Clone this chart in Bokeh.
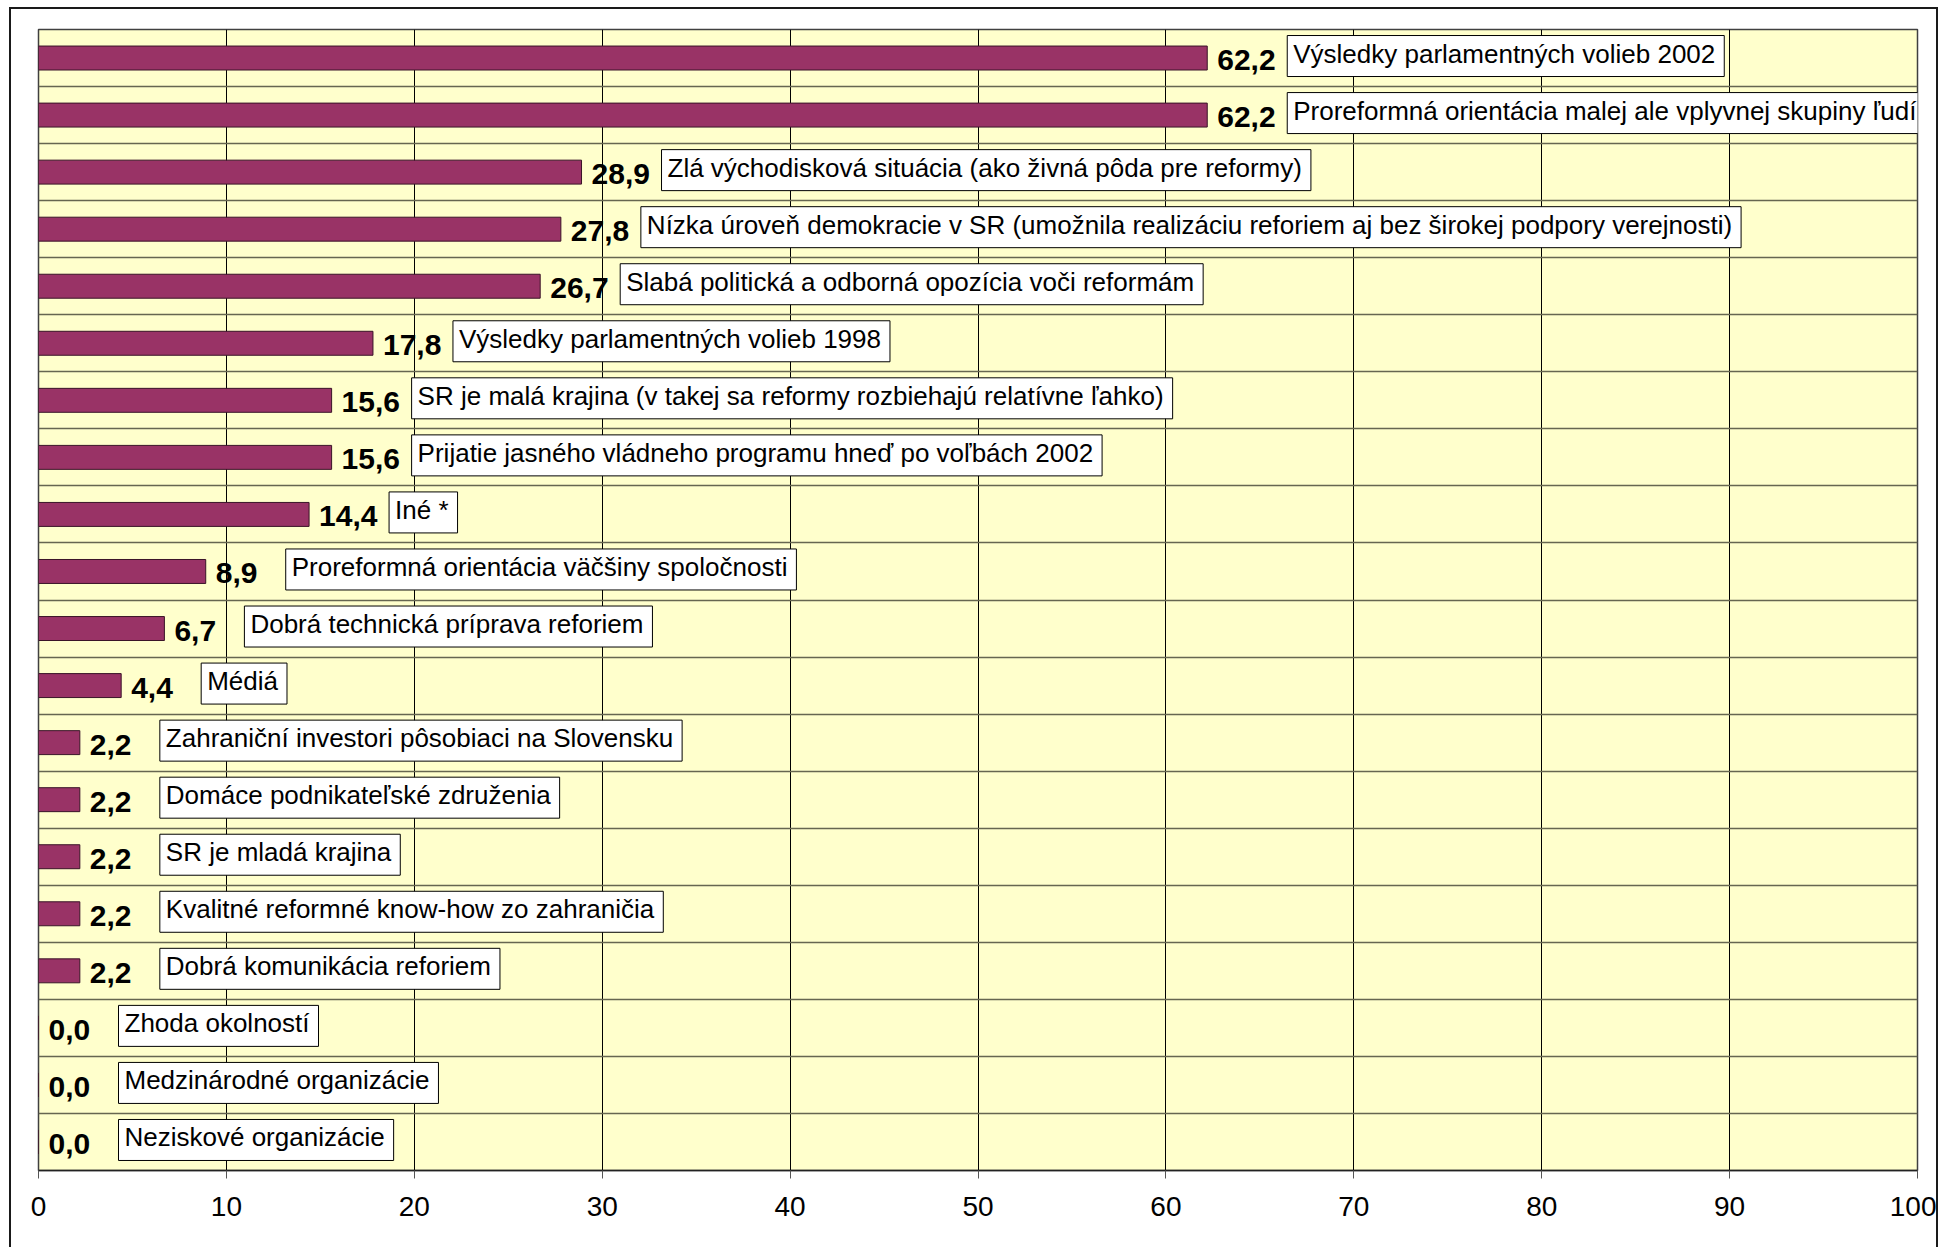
from bokeh.plotting import figure
from bokeh.models import ColumnDataSource, FixedTicker, Range1d
from bokeh.core.properties import value
from bokeh.embed import file_html
from bokeh.resources import INLINE

labels = [
    "Výsledky parlamentných volieb 2002",
    "Proreformná orientácia malej ale vplyvnej skupiny ľudí",
    "Zlá východisková situácia (ako živná pôda pre reformy)",
    "Nízka úroveň demokracie v SR (umožnila realizáciu reforiem aj bez širokej podpory verejnosti)",
    "Slabá politická a odborná opozícia voči reformám",
    "Výsledky parlamentných volieb 1998",
    "SR je malá krajina (v takej sa reformy rozbiehajú relatívne ľahko)",
    "Prijatie jasného vládneho programu hneď po voľbách 2002",
    "Iné *",
    "Proreformná orientácia väčšiny spoločnosti",
    "Dobrá technická príprava reforiem",
    "Médiá",
    "Zahraniční investori pôsobiaci na Slovensku",
    "Domáce podnikateľské združenia",
    "SR je mladá krajina",
    "Kvalitné reformné know-how zo zahraničia",
    "Dobrá komunikácia reforiem",
    "Zhoda okolností",
    "Medzinárodné organizácie",
    "Neziskové organizácie",
]
values = [62.2, 62.2, 28.9, 27.8, 26.7, 17.8, 15.6, 15.6, 14.4, 8.9,
          6.7, 4.4, 2.2, 2.2, 2.2, 2.2, 2.2, 0.0, 0.0, 0.0]
x_ticks = [0, 10, 20, 30, 40, 50, 60, 70, 80, 90, 100]

n = len(labels)
src = ColumnDataSource(dict(
    y=list(range(n)),
    v=values,
    vt=[f"{v:.1f}".replace(".", ",") for v in values],
    lab=labels,
))

p = figure(width=1929, height=1240,
           x_range=Range1d(0, 100), y_range=Range1d(n - 0.5, -0.5),
           output_backend="svg", toolbar_location=None,
           min_border_left=27, min_border_right=23,
           min_border_top=20, min_border_bottom=79,
           background_fill_color="#FFFFCC", border_fill_color="white")
p.styles = {"border": "2px solid #1a1a1a", "border-bottom": "none",
            "margin-left": "9px", "margin-top": "7px"}

p.outline_line_color = "#404040"
p.outline_line_width = 1.5

p.yaxis.visible = False
p.xgrid.ticker = FixedTicker(ticks=x_ticks)
p.xgrid.grid_line_color = "#000000"
p.xgrid.grid_line_width = 1
p.ygrid.ticker = FixedTicker(ticks=[i + 0.5 for i in range(n - 1)])
p.ygrid.grid_line_color = "#666650"
p.ygrid.grid_line_width = 1.5

ax = p.xaxis[0]
ax.ticker = FixedTicker(ticks=x_ticks)
ax.axis_line_color = "#222222"
ax.axis_line_width = 1.5
ax.major_tick_line_color = "#555555"
ax.major_tick_out = 8
ax.major_tick_in = 0
ax.minor_tick_line_color = None
ax.major_label_text_font = "Liberation Sans"
ax.major_label_text_font_size = "28px"
ax.major_label_text_color = "#000000"
ax.major_label_standoff = 18

p.hbar(y="y", left=0, right="v", height=0.42, source=src,
       fill_color="#993366", line_color="#3a1428", line_width=1)

p.text(x="v", y="y", text="vt", source=src, x_offset=10, y_offset=2,
       text_font=value("Liberation Sans"), text_font_style="bold",
       text_font_size="30px", text_color="#000000",
       text_align="left", text_baseline="middle")

p.text(x="v", y="y", text="lab", source=src, x_offset=80, y_offset=-2,
       text_font=value("Liberation Sans"), text_font_size="26px",
       text_color="#000000", text_align="left", text_baseline="middle",
       background_fill_color="white", border_line_color="#000000",
       border_line_width=1,
       padding=dict(left=6, right=9, top=3, bottom=8))

open("out.html", "w").write(file_html(p, INLINE))
